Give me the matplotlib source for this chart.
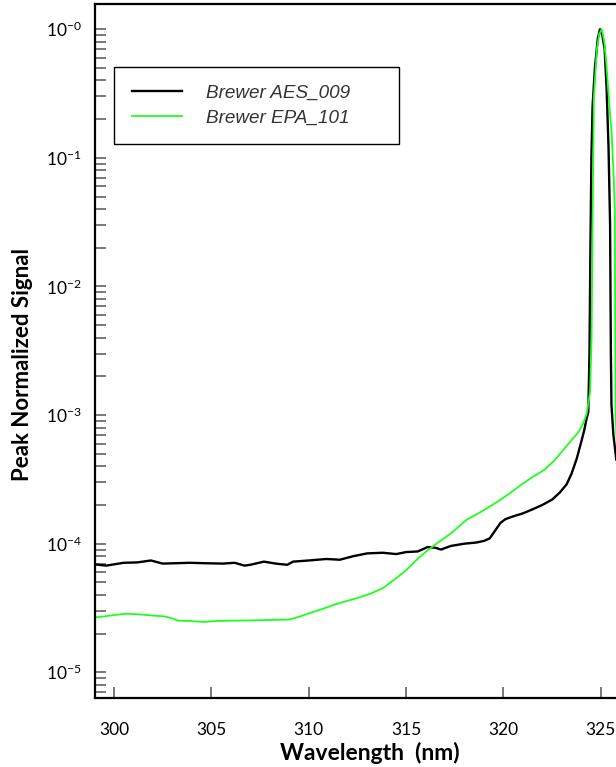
import matplotlib
matplotlib.use("Agg")
import matplotlib.pyplot as plt
from matplotlib.ticker import FixedLocator, LogLocator, NullFormatter

# Brewer AES_009 (black)
aes_wl = [299.0, 299.6, 300.5, 301.2, 301.9, 302.5, 303.2, 303.9, 304.6, 305.6,
          306.2, 306.7, 307.0, 307.7, 308.3, 308.9, 309.2, 310.0, 310.9, 311.6,
          312.3, 313.0, 313.8, 314.5, 315.0, 315.6, 316.1, 316.5, 316.8, 317.3,
          318.0, 318.6, 319.0, 319.3, 319.6, 319.85, 320.1, 320.5, 321.0, 321.5,
          322.0, 322.5, 322.9, 323.25, 323.5, 323.77, 324.0, 324.15, 324.28, 324.36,
          324.42, 324.47, 324.52, 324.58, 324.70, 324.85, 324.96, 325.08, 325.20, 325.30,
          325.40, 325.48, 325.52, 325.55, 325.65, 325.80]
aes_val = [6.9e-5, 6.75e-5, 7.1e-5, 7.15e-5, 7.4e-5, 7.0e-5, 7.05e-5, 7.1e-5, 7.05e-5, 7.0e-5,
           7.1e-5, 6.75e-5, 6.85e-5, 7.25e-5, 7.0e-5, 6.85e-5, 7.25e-5, 7.4e-5, 7.6e-5, 7.5e-5,
           8.0e-5, 8.4e-5, 8.5e-5, 8.3e-5, 8.6e-5, 8.7e-5, 9.4e-5, 9.3e-5, 9.0e-5, 9.6e-5,
           1.0e-4, 1.02e-4, 1.05e-4, 1.1e-4, 1.28e-4, 1.45e-4, 1.55e-4, 1.63e-4, 1.72e-4, 1.85e-4,
           2.0e-4, 2.2e-4, 2.5e-4, 2.9e-4, 3.5e-4, 4.6e-4, 6.2e-4, 7.6e-4, 9.5e-4, 1.05e-3,
           3e-3, 0.02, 0.1, 0.25, 0.5, 0.85, 1.0, 0.9, 0.7, 0.35,
           0.12, 0.03, 3e-3, 1.2e-3, 7e-4, 4.5e-4]

# Brewer EPA_101 (green)
epa_wl = [299.0, 299.5, 300.1, 300.65, 301.3, 302.0, 302.6, 303.0, 303.3, 304.0,
          304.6, 305.2, 306.0, 307.0, 308.0, 309.0, 309.5, 310.1, 310.7, 311.3,
          312.0, 312.5, 313.2, 313.8, 314.5, 315.0, 315.55, 316.0, 316.6, 317.3,
          318.1, 318.8, 319.7, 320.3, 320.9, 321.5, 322.1, 322.6, 323.1, 323.5,
          323.8, 324.1, 324.28, 324.45, 324.53, 324.57, 324.60, 324.65, 324.80, 324.92,
          325.05, 325.18, 325.30, 325.45, 325.56, 325.65, 325.72, 325.76, 325.85]
epa_val = [2.67e-5, 2.72e-5, 2.8e-5, 2.85e-5, 2.82e-5, 2.76e-5, 2.72e-5, 2.62e-5, 2.52e-5, 2.5e-5,
           2.46e-5, 2.5e-5, 2.52e-5, 2.53e-5, 2.55e-5, 2.57e-5, 2.7e-5, 2.9e-5, 3.1e-5, 3.35e-5,
           3.6e-5, 3.78e-5, 4.1e-5, 4.5e-5, 5.4e-5, 6.2e-5, 7.5e-5, 8.6e-5, 1.01e-4, 1.2e-4,
           1.53e-4, 1.75e-4, 2.12e-4, 2.45e-4, 2.86e-4, 3.3e-4, 3.75e-4, 4.4e-4, 5.4e-4, 6.4e-4,
           7.2e-4, 8.6e-4, 1.03e-3, 1.5e-3, 4e-3, 0.02, 0.06, 0.3, 0.7, 0.92,
           1.0, 0.8, 0.51, 0.25, 0.155, 0.08, 0.04, 1e-3, 5e-4]

xticks = [300, 305, 310, 315, 320, 325, 330]
yticks = [1e-5, 1e-4, 1e-3, 1e-2, 1e-1, 1e0]
ytick_labels = [r"$\mathregular{10^{-5}}$", r"$\mathregular{10^{-4}}$", r"$\mathregular{10^{-3}}$",
                r"$\mathregular{10^{-2}}$", r"$\mathregular{10^{-1}}$", r"$\mathregular{10^{-0}}$"]

plt.rcParams['font.family'] = ['Lato', 'DejaVu Sans']
plt.rcParams['mathtext.fontset'] = 'custom'
plt.rcParams['mathtext.rm'] = 'Lato'

fig = plt.figure(figsize=(6.16, 7.67), dpi=100)
# axes runs past the right edge of the figure, like the cropped original
ax = fig.add_axes([94.5 / 616, 1 - 698 / 767, 603.6 / 616, 694.5 / 767])

ax.plot(aes_wl, aes_val, color='black', lw=1.7, label='Brewer AES_009')
ax.plot(epa_wl, epa_val, color='#1eff1e', lw=1.3, label='Brewer EPA_101')

ax.set_yscale('log')
ax.set_xlim(299, 330)
ax.set_ylim(10 ** -5.2, 10 ** 0.2)

ax.xaxis.set_major_locator(FixedLocator(xticks))
ax.set_yticks(yticks)
ax.set_yticklabels(ytick_labels)
ax.yaxis.set_minor_locator(LogLocator(base=10, subs=range(2, 10)))
ax.yaxis.set_minor_formatter(NullFormatter())

ax.tick_params(axis='both', which='both', direction='in', length=8, width=1.1,
               color='#555555', labelsize=12.5, top=False, right=False)
ax.tick_params(axis='x', pad=17)
ax.tick_params(axis='y', pad=9)

for s in ax.spines.values():
    s.set_linewidth(1.6)
    s.set_color('black')

ax.set_xlabel('Wavelength  (nm)', fontsize=16.5, fontweight='bold')
ax.xaxis.set_label_coords((370 - 94.5) / 603.6, -(742 - 698) / 694.5)
fig.text(23 / 616, 1 - 364 / 767, 'Peak Normalized Signal', rotation=90,
         ha='center', va='center', fontsize=16, fontweight='bold')

leg = ax.legend(loc='upper left', bbox_to_anchor=(114.3 / 616, 1 - 67.7 / 767, (399 - 114.3) / 616, 0.001),
                bbox_transform=fig.transFigure, mode='expand', fancybox=False, framealpha=1,
                edgecolor='black', borderpad=0.95, labelspacing=0.38, handlelength=2.66,
                handletextpad=1.24, borderaxespad=0,
                prop={'family': 'Liberation Sans', 'style': 'italic', 'size': 13.6})
leg.get_frame().set_linewidth(1.0)
for t in leg.get_texts():
    t.set_color('#333333')

fig.savefig('out.png', dpi=100)
